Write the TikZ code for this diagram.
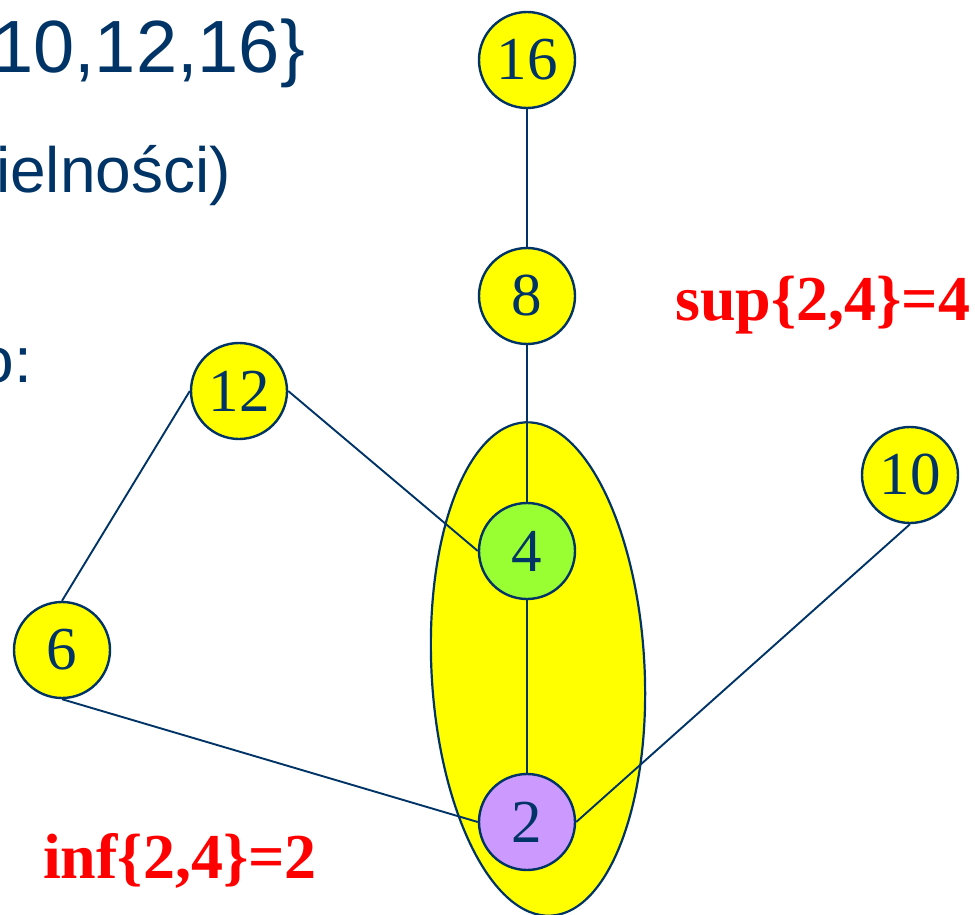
\documentclass[tikz,border=0pt]{standalone}
\usepackage{fontspec}
\usetikzlibrary{shapes.geometric}
\setmainfont{Liberation Serif}
\newfontfamily\arialf{Liberation Sans}
\definecolor{navy}{RGB}{0,51,102}
\definecolor{nodeyellow}{RGB}{255,255,0}
\definecolor{nodegreen}{RGB}{153,255,51}
\definecolor{nodepurple}{RGB}{204,153,255}
\definecolor{labred}{RGB}{255,0,0}
\begin{document}
\begin{tikzpicture}[x=1pt,y=-1pt,
  vert/.style={circle,draw=navy,line width=2.4pt,minimum size=96pt,inner sep=0pt,
     text=navy,font=\fontsize{61}{61}\selectfont},
  edge/.style={draw=navy,line width=1.9pt},
  slidetext/.style={text=navy,font=\arialf\fontsize{74}{74}\selectfont,inner sep=0pt},
  slidesmall/.style={text=navy,font=\arialf\fontsize{64}{64}\selectfont,inner sep=0pt},
  redlab/.style={text=labred,font=\bfseries\fontsize{64}{64}\selectfont,inner sep=0pt}]
\useasboundingbox (0,0) rectangle (975,915);
% set membership ellipse
\node[ellipse,draw=navy,fill=nodeyellow,line width=2.2pt,minimum width=213pt,minimum height=494pt,
  inner sep=0pt,rotate=3] (blob) at (538,669) {};
% texts cut at left edge
\node[slidetext,anchor=base east] (t1) at (305,73) {10,12,16\}};
\node[slidesmall,anchor=base east] (t2) at (231,193) {ielności)};
\node[slidesmall,anchor=base east] (t3) at (32,382) {o:};
% vertices
\node[vert,fill=nodeyellow] (n16) at (527,60) {16};
\node[vert,fill=nodeyellow] (n8) at (527,296) {8};
\node[vert,fill=nodeyellow] (n12) at (239,391) {12};
\node[vert,fill=nodeyellow] (n10) at (910,475) {10};
\node[vert,fill=nodegreen] (n4) at (527,551) {4};
\node[vert,fill=nodeyellow] (n6) at (62,650) {6};
\node[vert,fill=nodepurple] (n2) at (527,822) {2};
% edges
\path[edge] (n16.south) -- (n8.north);
\path[edge] (n8.south) -- (n4.north);
\path[edge] (n4.south) -- (n2.north);
\path[edge] (n12.east) -- (n4.west);
\path[edge] (n12.west) -- (n6.north);
\path[edge] (n6.south) -- (n2.west);
\path[edge] (n10.south) -- (n2.east);
% labels
\node[redlab,anchor=base west] (sup) at (675,320) {sup\{2,4\}=4};
\node[redlab,anchor=base west] (inf) at (43,878) {inf\{2,4\}=2};
\end{tikzpicture}
\end{document}
